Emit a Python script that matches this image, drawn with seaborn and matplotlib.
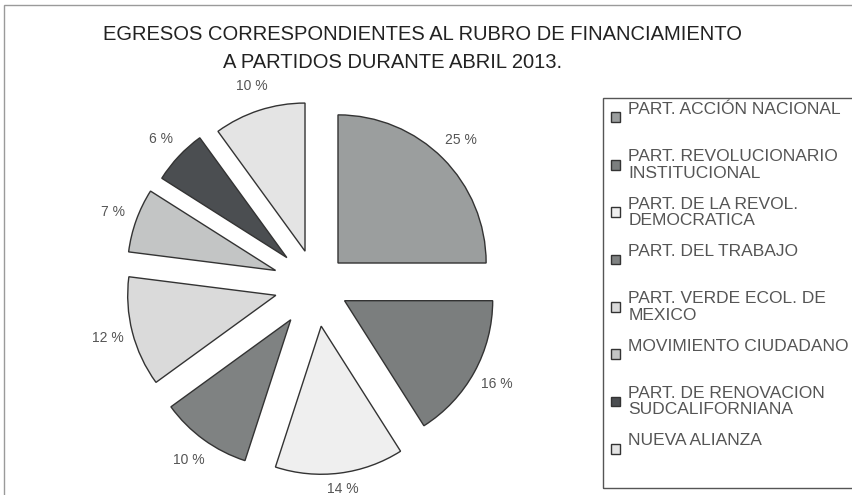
import matplotlib
matplotlib.use("Agg")
import matplotlib.pyplot as plt
import seaborn as sns
from matplotlib.patches import Rectangle

# datos
partidos = [
    "PART. ACCIÓN NACIONAL",
    "PART. REVOLUCIONARIO\nINSTITUCIONAL",
    "PART. DE LA REVOL.\nDEMOCRATICA",
    "PART. DEL TRABAJO",
    "PART. VERDE ECOL. DE\nMEXICO",
    "MOVIMIENTO CIUDADANO",
    "PART. DE RENOVACION\nSUDCALIFORNIANA",
    "NUEVA ALIANZA",
]
porcentajes = [25, 16, 14, 10, 12, 7, 6, 10]

colores = ["#9b9e9e", "#7b7e7e", "#efefef", "#7f8282",
           "#dadada", "#c3c5c5", "#4b4e51", "#e4e4e4"]
separacion = [0.21, 0.22, 0.28, 0.29, 0.28, 0.29, 0.27, 0.24]

sns.set_theme(style="white")
plt.rcParams['font.family'] = ['Liberation Sans', 'DejaVu Sans']

W, H = 853, 495
fig = plt.figure(figsize=(W / 100, H / 100), dpi=100)

# marco exterior del grafico
fig.patches.append(Rectangle((4 / W, -0.05), 1.1, 1 - 5 / H + 0.05, transform=fig.transFigure,
                             fill=False, edgecolor="#9a9a9a", linewidth=1))

ax = fig.add_axes([79 / W, -27 / H, 474 / W, 474 / H])
wedges, texts, autotexts = ax.pie(
    porcentajes, colors=colores, explode=separacion, startangle=90, counterclock=False,
    autopct=lambda p: f"{p:.0f} %", pctdistance=1.17,
    wedgeprops=dict(edgecolor="#333333", linewidth=1),
    textprops=dict(color="#555555", fontsize=10))
ax.set_xlim(-1.6, 1.6)
ax.set_ylim(-1.6, 1.6)
ax.axis("off")

# la etiqueta de abajo queda pegada al borde; subirla un poco
x14, y14 = autotexts[2].get_position()
autotexts[2].set_position((x14, y14 + 0.06))

fig.text(423 / W, 1 - 34 / H, "EGRESOS CORRESPONDIENTES AL RUBRO DE FINANCIAMIENTO",
         ha="center", va="center", fontsize=14.5, color="#222222")
fig.text(393 / W, 1 - 63 / H, "A PARTIDOS DURANTE ABRIL 2013.",
         ha="center", va="center", fontsize=14.5, color="#222222")

# leyenda con caja propia
fig.patches.append(Rectangle((603 / W, 1 - 488 / H), 0.6, (488 - 98) / H,
                             transform=fig.transFigure, fill=False,
                             edgecolor="#555555", linewidth=1))
etiquetas = [p if "\n" in p else p + "\n " for p in partidos]
leg = fig.legend(wedges, etiquetas, loc="upper left", bbox_to_anchor=(611 / W, 1 - 102 / H),
                 frameon=False, borderpad=0, borderaxespad=0, fontsize=12.5,
                 handlelength=0.5, handleheight=0.5, handletextpad=0.5,
                 labelspacing=0.93, labelcolor="#555555")
for t in leg.get_texts():
    t.set_linespacing(1.1)

fig.savefig("out.png", dpi=100)
